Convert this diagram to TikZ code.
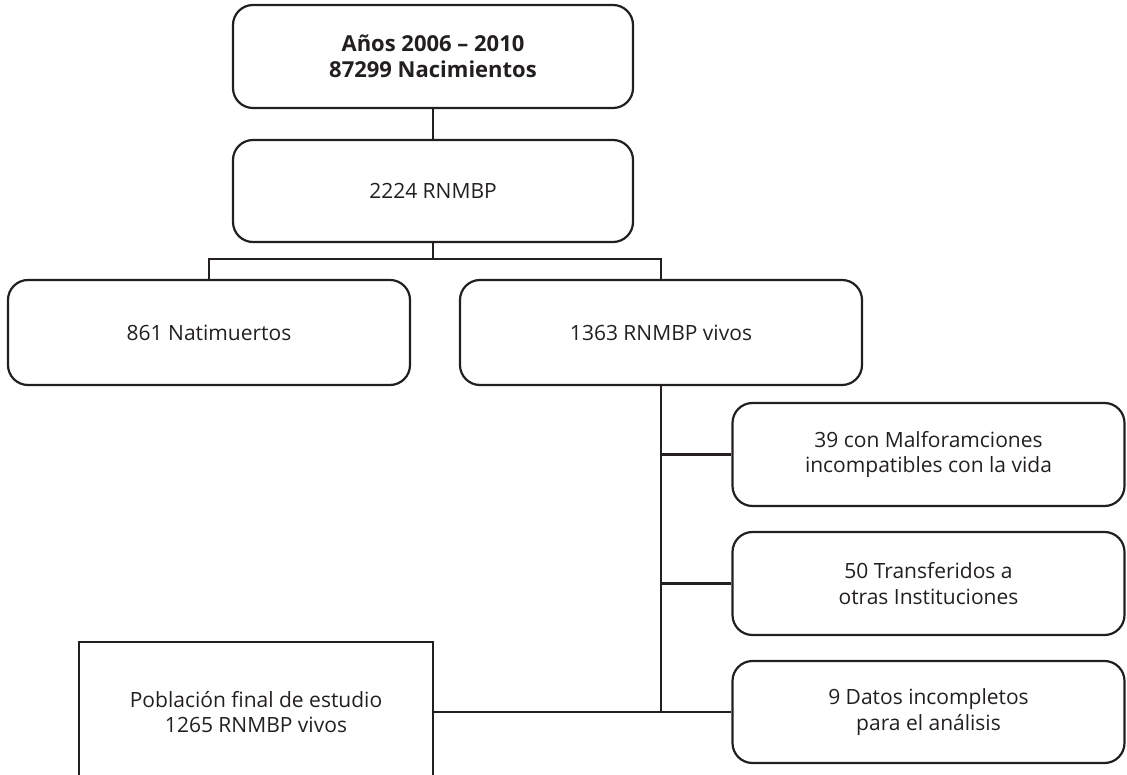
\documentclass[tikz,border=0pt]{standalone}
\usepackage{fontspec}
\setmainfont{Open Sans}
\definecolor{FlowInk}{RGB}{35,31,32}
\usepackage{tikz}
\usetikzlibrary{
    positioning,
    calc,
}

\begin{document}
\begin{tikzpicture}[x=1pt, y=-1pt,
        flowbox/.style={rounded corners=20pt, draw=FlowInk, line width=2.2pt, align=center,
            text=FlowInk, font=\fontsize{21}{25.5}\selectfont, inner sep=0pt},
        finalbox/.style={draw=FlowInk, line width=2.2pt, align=center,
            text=FlowInk, font=\fontsize{21}{25.5}\selectfont, inner sep=0pt},
        link/.style={draw=FlowInk, line width=2.2pt}]
        \clip (0,0) rectangle (1127,775);
        \useasboundingbox (0,0) rectangle (1127,775);
        \node[flowbox, minimum width=400pt, minimum height=103pt, font=\fontsize{22}{26}\selectfont\bfseries] (anios) at (433,56.5) {Años 2006 – 2010\\87299 Nacimientos};
        \node[flowbox, minimum width=400pt, minimum height=102pt] (total) at (433,191) {2224 RNMBP};
        \node[flowbox, minimum width=402pt, minimum height=105pt] (nati) at (209,332.5) {861 Natimuertos};
        \node[flowbox, minimum width=402pt, minimum height=105pt] (vivos) at (661,332.5) {1363 RNMBP vivos};
        \node[flowbox, minimum width=392pt, minimum height=103pt] (malf) at (928.5,454.5) {39 con Malforamciones\\incompatibles con la vida};
        \node[flowbox, minimum width=392pt, minimum height=103pt] (trans) at (928.5,583.5) {50 Transferidos a\\otras Instituciones};
        \node[flowbox, minimum width=392pt, minimum height=102pt] (datos) at (928.5,712) {9 Datos incompletos\\para el análisis};
        \node[finalbox, minimum width=354pt, minimum height=140pt] (final) at (256,712) {Población final de estudio\\1265 RNMBP vivos};
        % ramas
        \draw[link] (anios) -- (total);
        \draw[link] (total.south) -- ++(0,16) coordinate (split) -| (nati.north);
        \draw[link] (split) -| (vivos.north);
        \draw[link] (vivos.south) -- (vivos.south |- datos.west);
        \draw[link] (vivos.south |- malf.west) -- (malf.west);
        \draw[link] (vivos.south |- trans.west) -- (trans.west);
        \draw[link] (final.east) -- (datos.west);
    \end{tikzpicture}
\end{document}
